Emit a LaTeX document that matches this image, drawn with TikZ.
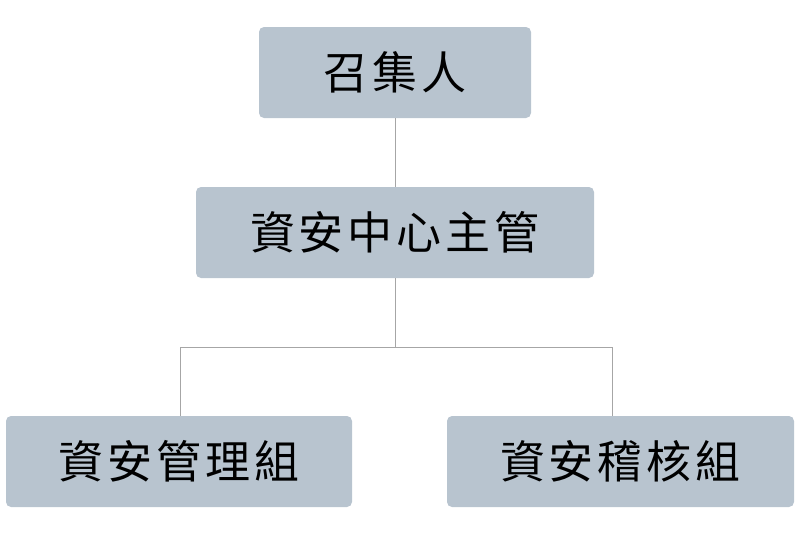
\documentclass[tikz,border=0pt]{standalone}
\usepackage{fontspec}
\newfontfamily\cjk{Noto Sans CJK TC}
\definecolor{boxfill}{HTML}{B8C4CF}
\definecolor{linegray}{HTML}{A6A6A6}
\newcommand{\gp}{\kern4pt}
\begin{document}
\begin{tikzpicture}[x=1pt,y=-1pt,
  box/.style={fill=boxfill, rounded corners=5pt, inner sep=0pt, minimum height=91pt,
    font=\cjk\fontsize{45}{45}\selectfont},
  conn/.style={draw=linegray, line width=1pt}]
\useasboundingbox (0,0) rectangle (800,544);
\node[box, minimum width=272pt] (top) at (395,72.5) {召\gp 集\gp 人};
\node[box, minimum width=398pt] (mid) at (395,232.5) {資\gp 安\gp 中\gp 心\gp 主\gp 管};
\node[box, minimum width=346pt] (left) at (179,461.5) {資\gp 安\gp 管\gp 理\gp 組};
\node[box, minimum width=347pt] (right) at (620.5,461.5) {資\gp 安\gp 稽\gp 核\gp 組};
\coordinate (barL) at (180,347);
\coordinate (barR) at (612,347);
\draw[conn] (top.south) -- (mid.north);
\draw[conn] (mid.south) -- (mid.south |- barL);
\draw[conn] (barL |- left.north) -- (barL) -- (barR) -- (barR |- right.north);
\end{tikzpicture}
\end{document}
